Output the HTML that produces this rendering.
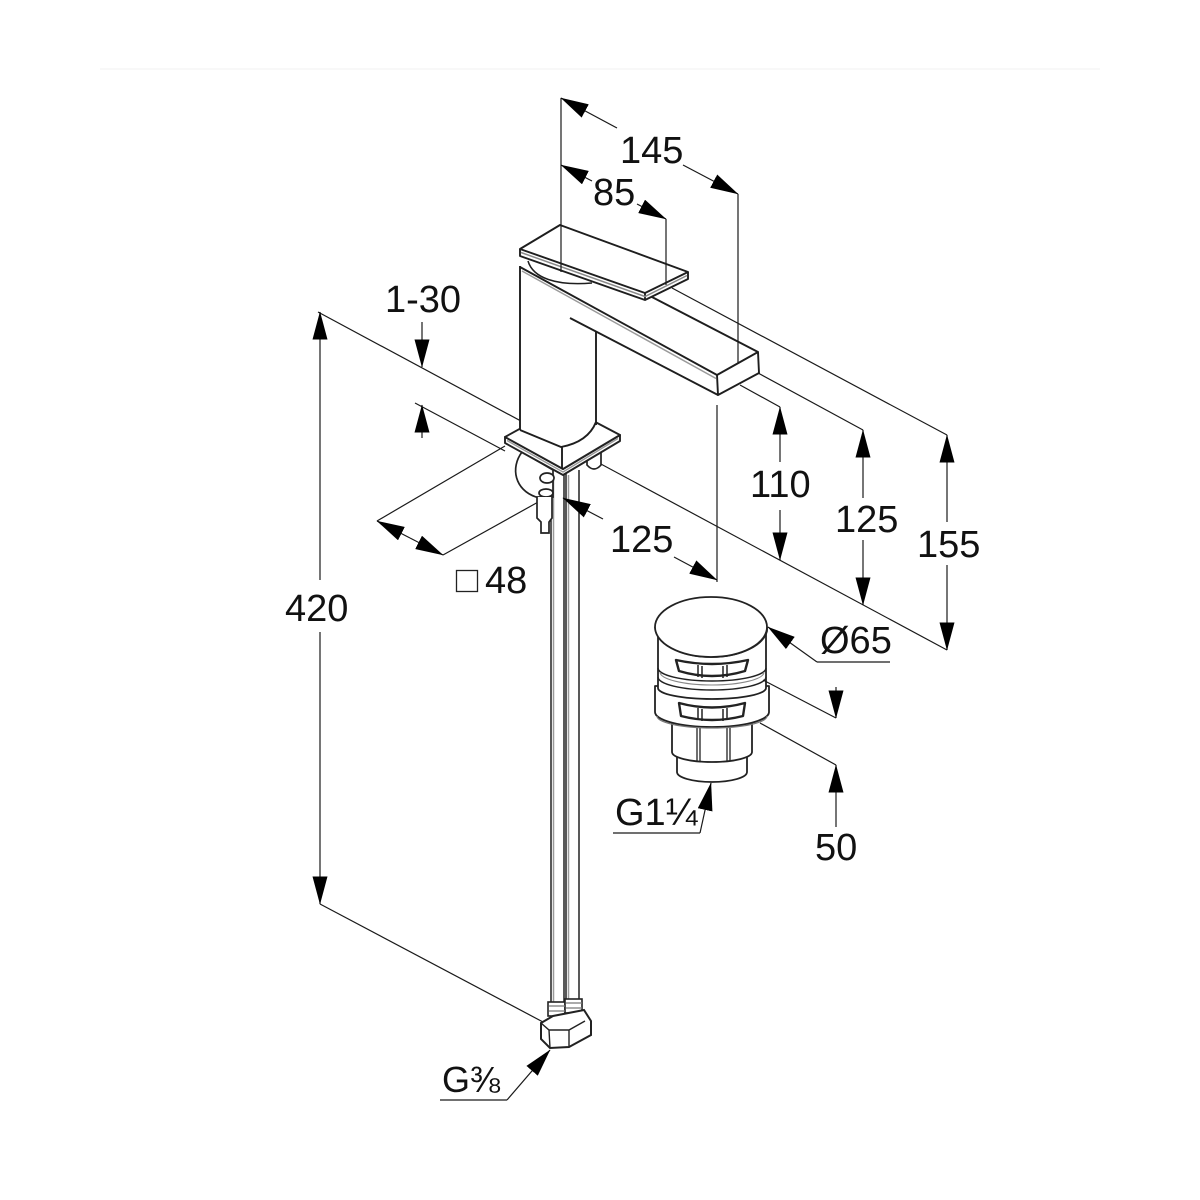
<!DOCTYPE html>
<html><head><meta charset="utf-8">
<style>
html,body{margin:0;padding:0;background:#fff;}
svg{display:block;}
text{font-family:"Liberation Sans",Arial,sans-serif;fill:#111;}
</style></head>
<body>
<svg width="1200" height="1200" viewBox="0 0 1200 1200" xmlns="http://www.w3.org/2000/svg">
<defs>
<marker id="a" viewBox="0 0 28 15" refX="27.5" refY="7.5" markerWidth="28" markerHeight="15" markerUnits="userSpaceOnUse" orient="auto"><path d="M0,0 L28,7.5 L0,15 Z" fill="#000"/></marker>
</defs>
<rect width="1200" height="1200" fill="#fff"/>
<line x1="100" y1="69" x2="1100" y2="69" stroke="#f2f2f2" stroke-width="1"/>

<!-- deck / reference lines (behind faucet) -->
<g stroke="#1a1a1a" stroke-width="1.2" fill="none">
  <line x1="318" y1="312" x2="947" y2="650"/>
  <line x1="415" y1="403" x2="505" y2="451"/>
  <line x1="377" y1="521" x2="505" y2="446"/>
  <line x1="443" y1="555" x2="540" y2="501"/>
  <line x1="320" y1="904" x2="543" y2="1022"/>
</g>

<!-- pipes -->
<g stroke="#222" stroke-width="1.5" fill="none">
  <line x1="551" y1="470" x2="551" y2="1005"/>
  <line x1="564" y1="470" x2="564" y2="1005"/>
  <line x1="566" y1="470" x2="566" y2="1002"/>
  <line x1="579" y1="470" x2="579" y2="1002"/>
</g>
<g stroke="#9a9a9a" stroke-width="1.5" fill="none">
  <line x1="553.5" y1="475" x2="553.5" y2="1003"/>
  <line x1="568.5" y1="475" x2="568.5" y2="1000"/>
</g>

<!-- bottom connector -->
<g stroke="#222" stroke-width="1.6" fill="#fff">
  <rect x="548" y="1002" width="17" height="14"/>
  <rect x="565" y="999" width="17" height="14"/>
  <polygon points="541,1023 553,1016 584,1010 591,1021 591,1035 569,1047 550,1048 541,1039" stroke-width="2"/>
  <path d="M541,1023 L549,1030 L569,1030 L585,1021 M569,1030 L569,1047 M549,1030 L550,1048" fill="none" stroke-width="1.4"/>
  <path d="M549,1006 L565,1006 M566,1003 L582,1003 M549,1011 L565,1011 M566,1008 L582,1008" fill="none" stroke="#777" stroke-width="1.2"/>
</g>

<!-- under-base bracket & stud -->
<g stroke="#222" stroke-width="1.7" fill="#fff">
  <path d="M522,452 C510,468 515,490 536,497 L553,497 L553,470 Z"/>
  <ellipse cx="547" cy="478" rx="7" ry="5"/>
  <ellipse cx="546" cy="493" rx="7" ry="4"/>
  <path d="M537,497 L537,518 L541,522 L541,533 L549,533 L549,522 L552,518 L552,497"/>
  <path d="M587,452 L587,465 Q594,473 601,465 L601,450 Z"/>
</g>

<!-- base plate -->
<g stroke="#222" stroke-width="1.9" fill="#fff" stroke-linejoin="round">
  <polygon points="505,437 505,443 563,475 620,441 620,435 563,469"/>
  <polygon points="505,437 563,405 620,435 563,469"/>
  <path d="M507,440.5 L563,472 L618,438.5" fill="none" stroke="#999" stroke-width="1.4"/>
</g>

<!-- faucet body fill -->
<path d="M520,249 L560,225 L688,272 L688,279 L645,300 L758,352 L759,373 L718,395 L596,331 L596,425 Q590,440 562,447 L520,430 Z" fill="#fff"/>

<g stroke="#1e1e1e" stroke-width="1.9" fill="none" stroke-linejoin="round">
  <line x1="520" y1="266" x2="520" y2="430"/>
  <line x1="520" y1="267" x2="717" y2="375"/>
  <line x1="650" y1="296" x2="758" y2="352"/>
  <line x1="570" y1="318" x2="718" y2="395"/>
  <line x1="596" y1="331" x2="596" y2="425"/>
  <path d="M520,430 L561,447 Q588,442 596,422"/>
  <line x1="562" y1="447" x2="562" y2="469"/>
  <polygon points="717,375 758,352 759,373 718,395" fill="#fff"/>
  <path d="M528,261 C533,278 556,286 592,283" stroke-width="1.5"/>
</g>
<line x1="522" y1="271" x2="716" y2="378.5" stroke="#9a9a9a" stroke-width="1.5"/>

<!-- lever plate -->
<g stroke="#1e1e1e" stroke-width="1.9" fill="#fff" stroke-linejoin="round">
  <path d="M520,249 L520,256 L645,300 L688,279 L688,272"/>
  <polygon points="560,225 520,249 645,293 688,272"/>
  <line x1="645" y1="293" x2="645" y2="300"/>
</g>
<path d="M521,252.5 L645,296.5 L687,275.5" stroke="#8a8a8a" stroke-width="1.5" fill="none"/>

<!-- drain -->
<g stroke="#222" stroke-width="1.8" fill="#fff" stroke-linejoin="round">
  <!-- tail -->
  <path d="M677,745 L677,772 A35,10 0 0 0 747,772 L747,745"/>
  <!-- nut -->
  <path d="M672,712 L672,752 A40,10 0 0 0 752,752 L752,712"/>
  <path d="M697,728 L697,761 M700,728 L700,762 M727,728 L727,762 M730,728 L730,761" fill="none" stroke-width="1.3"/>
  <!-- flange -->
  <path d="M655,686 L655,712 A57,15 0 0 0 769,712 L769,686 Z"/>
  <path d="M657,716 A55,12 0 0 0 767,716" fill="none" stroke="#777" stroke-width="1.2"/>
  <path d="M679,703 Q712,712 745,703 L743,716 Q712,724 681,716 Z" stroke-width="2.4"/>
  <path d="M698,708 L698,720 M702,709 L702,721 M723,709 L723,721 M727,708 L727,720" fill="none" stroke-width="1.5"/>
  <!-- upper body -->
  <path d="M658,630 L658,688 A54,11 0 0 0 766,688 L766,630 Z"/>
  <path d="M658,668 A54,13 0 0 0 766,668" fill="none" stroke-width="1.5"/>
  <path d="M658,677 A54,13 0 0 0 766,677" fill="none" stroke-width="1.4"/>
  <path d="M660,672 A52,13 0 0 0 764,672" fill="none" stroke="#888" stroke-width="1.1"/>
  <path d="M676,660 Q712,668 748,660 L745,671 Q712,681 679,671 Z" stroke-width="2.4"/>
  <path d="M698,665 L698,677 M702,666 L702,678 M723,666 L723,678 M727,665 L727,677" fill="none" stroke-width="1.5"/>
  <!-- cap -->
  <path d="M655,627 L656,631 A56,30 0 0 0 767,631 L767,627"/>
  <ellipse cx="711" cy="627" rx="56" ry="30"/>
</g>

<!-- dimension lines -->
<g stroke="#1a1a1a" stroke-width="1.2" fill="none">
  <line x1="561" y1="98" x2="561" y2="272"/>
  <line x1="738" y1="194" x2="738" y2="363"/>
  <line x1="666" y1="219" x2="666" y2="285"/>
  <line x1="617" y1="128" x2="561" y2="98" marker-end="url(#a)"/>
  <line x1="683" y1="165" x2="738" y2="194" marker-end="url(#a)"/>
  <line x1="592" y1="181" x2="561" y2="165" marker-end="url(#a)"/>
  <line x1="637" y1="204" x2="666" y2="219" marker-end="url(#a)"/>
  <line x1="672" y1="288" x2="947" y2="435"/>
  <line x1="758" y1="373" x2="863" y2="430"/>
  <line x1="740" y1="385" x2="780" y2="407"/>
  <line x1="717" y1="405" x2="717" y2="582"/>
  <line x1="780" y1="462" x2="780" y2="407" marker-end="url(#a)"/>
  <line x1="780" y1="510" x2="780" y2="560" marker-end="url(#a)"/>
  <line x1="863" y1="498" x2="863" y2="430" marker-end="url(#a)"/>
  <line x1="863" y1="540" x2="863" y2="605" marker-end="url(#a)"/>
  <line x1="947" y1="522" x2="947" y2="435" marker-end="url(#a)"/>
  <line x1="947" y1="565" x2="947" y2="650" marker-end="url(#a)"/>
  <line x1="422" y1="322" x2="422" y2="367" marker-end="url(#a)"/>
  <line x1="422" y1="438" x2="422" y2="405" marker-end="url(#a)"/>
  <line x1="320" y1="580" x2="320" y2="312" marker-end="url(#a)"/>
  <line x1="320" y1="632" x2="320" y2="904" marker-end="url(#a)"/>
  <line x1="410" y1="538" x2="377" y2="521" marker-end="url(#a)"/>
  <line x1="410" y1="538" x2="443" y2="555" marker-end="url(#a)"/>
  <line x1="603" y1="519" x2="563" y2="498" marker-end="url(#a)"/>
  <line x1="674" y1="557" x2="717" y2="580" marker-end="url(#a)"/>
  <line x1="817" y1="662" x2="768" y2="627" marker-end="url(#a)"/>
  <line x1="817" y1="662" x2="890" y2="662"/>
  <line x1="763" y1="680" x2="836" y2="718"/>
  <line x1="760" y1="723" x2="836" y2="765"/>
  <line x1="836" y1="687" x2="836" y2="718" marker-end="url(#a)"/>
  <line x1="836" y1="827" x2="836" y2="765" marker-end="url(#a)"/>
  <line x1="613" y1="833" x2="700" y2="833"/>
  <line x1="700" y1="833" x2="711" y2="783" marker-end="url(#a)"/>
  <line x1="440" y1="1100" x2="507" y2="1100"/>
  <line x1="507" y1="1100" x2="550" y2="1050" marker-end="url(#a)"/>
</g>

<!-- labels -->
<g font-size="38">
  <text x="620" y="163">145</text>
  <text x="593" y="205">85</text>
  <text x="385" y="312">1-30</text>
  <text x="750" y="497">110</text>
  <text x="835" y="532">125</text>
  <text x="917" y="557">155</text>
  <text x="285" y="621">420</text>
  <text x="610" y="552">125</text>
  <text x="485" y="593">48</text>
  <text x="820" y="653">Ø65</text>
  <text x="815" y="860">50</text>
  <text x="615" y="825">G1¼</text>
  <text x="442" y="1092" font-size="36">G⅜</text>
</g>
<rect x="456.5" y="570.5" width="21" height="21" fill="none" stroke="#222" stroke-width="1.3"/>
</svg>
</body></html>
